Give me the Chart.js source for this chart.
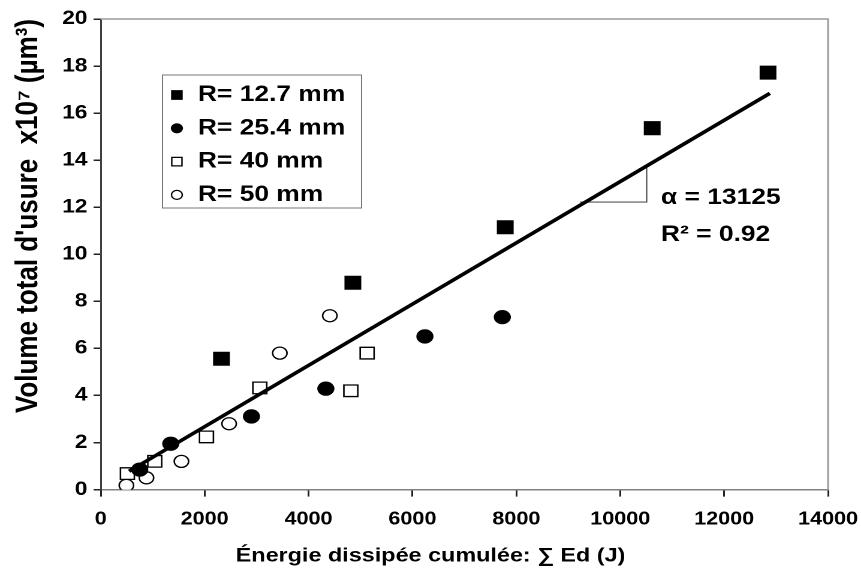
<!DOCTYPE html>
<html>
<head>
<meta charset="utf-8">
<script src="https://cdn.jsdelivr.net/npm/chart.js@4.4.1/dist/chart.umd.min.js"></script>
<style>
  html, body { margin: 0; padding: 0; background: #fff; overflow: hidden; }
  /* the source figure is stretched horizontally, so draw narrow and widen */
  #wrap { width: 718px; height: 574px; transform: scaleX(1.1992); transform-origin: 0 0; }
</style>
</head>
<body>
<div id="wrap"><canvas id="wear" width="718" height="574"></canvas></div>
<script>
/* global Chart */
const FONT = '"Liberation Sans", Arial, sans-serif';

// tick labels
const xTicks = [0, 2000, 4000, 6000, 8000, 10000, 12000, 14000];
const yTicks = [0, 2, 4, 6, 8, 10, 12, 14, 16, 18, 20];

// [cumulated dissipated energy (J), wear volume x10^7 (µm3)]
const r127 = [[2324, 5.56], [4853, 8.79], [7786, 11.15], [10615, 15.36], [12844, 17.72]];
const r254 = [[751, 0.85], [1348, 1.95], [2901, 3.11], [4333, 4.29], [6240, 6.51], [7730, 7.33]];
const r40 = [[513, 0.68], [1040, 1.2], [2035, 2.24], [3062, 4.32], [4814, 4.2], [5128, 5.8]];
const r50 = [[494, 0.18], [880, 0.5], [1553, 1.2], [2471, 2.8], [3447, 5.8], [4410, 7.39]];

// linear fit and the slope triangle
const fitLine = [[545, 0.78], [12880, 16.84]];
const slopeMark = [[9225, 12.22], [10508, 12.22], [10508, 13.73]];

const noteX = 10784;
const notes = [['α = 13125', 12.4], ['R² = 0.92', 10.83]];

const toXY = (arr) => arr.map(([x, y]) => ({ x, y }));

const series = [
  { label: 'R= 12.7 mm', data: r127, style: 'rect', fill: '#000', radius: 9, legendRadius: 6 },
  { label: 'R= 25.4 mm', data: r254, style: 'circle', fill: '#000', radius: 6.5, legendRadius: 4.5 },
  { label: 'R= 40 mm', data: r40, style: 'rect', fill: '#fff', radius: 8.2, legendRadius: 6 },
  { label: 'R= 50 mm', data: r50, style: 'circle', fill: '#fff', radius: 6, legendRadius: 4.5 }
];

const markerSets = series.map((s) => ({
  label: s.label,
  data: toXY(s.data),
  pointStyle: s.style,
  pointRadius: s.radius,
  pointBackgroundColor: s.fill,
  pointBorderColor: '#000',
  pointBorderWidth: 1.3,
  showLine: false,
  order: 2
}));

// legend box inside the plot + the alpha / R2 notes + top/right frame
const extras = {
  id: 'extras',
  beforeDatasetsDraw(chart) {
    const { ctx, chartArea: a } = chart;
    ctx.save();
    ctx.strokeStyle = '#9a9a9a';
    ctx.lineWidth = 1.5;
    ctx.beginPath();
    ctx.moveTo(a.left, a.top);
    ctx.lineTo(a.right, a.top);
    ctx.lineTo(a.right, a.bottom);
    ctx.stroke();
    ctx.restore();
  },
  afterDatasetsDraw(chart) {
    const { ctx, chartArea: a, scales } = chart;
    ctx.save();
    const left = a.left + 51.5;
    const top = a.top + 56;
    ctx.fillStyle = '#fff';
    ctx.fillRect(left, top, 166, 133);
    ctx.strokeStyle = '#777';
    ctx.lineWidth = 1;
    ctx.strokeRect(left, top, 166, 133);
    ctx.font = `bold 22px ${FONT}`;
    ctx.textBaseline = 'middle';
    series.forEach((s, i) => {
      const y = top + 20 + i * 33.3;
      ctx.fillStyle = s.fill;
      ctx.strokeStyle = '#000';
      ctx.lineWidth = 1.2;
      Chart.helpers.drawPoint(ctx, { pointStyle: s.style, radius: s.legendRadius, borderWidth: 1.2, rotation: 0 }, left + 12, y);
      ctx.fillStyle = '#000';
      ctx.fillText(s.label, left + 29.5, y);
    });

    notes.forEach(([text, v]) => {
      ctx.fillText(text, scales.x.getPixelForValue(noteX), scales.y.getPixelForValue(v));
    });
    ctx.restore();
  }
};

new Chart(document.getElementById('wear'), {
  type: 'scatter',
  data: {
    datasets: [
      {
        label: 'fit',
        data: toXY(fitLine),
        showLine: true,
        borderColor: '#000',
        borderWidth: 3.5,
        pointRadius: 0,
        order: 0
      },
      {
        label: 'slope',
        data: toXY(slopeMark),
        showLine: true,
        borderColor: '#555',
        borderWidth: 1.2,
        pointRadius: 0,
        order: 1
      },
      ...markerSets
    ]
  },
  options: {
    responsive: false,
    animation: false,
    devicePixelRatio: 2,
    layout: { padding: { top: 19, right: 0, left: 0, bottom: 0 } },
    plugins: {
      legend: { display: false },
      tooltip: { enabled: false },
      title: {
        display: true,
        position: 'bottom',
        text: 'Énergie dissipée cumulée: ∑ Ed (J)',
        color: '#000',
        font: { family: FONT, size: 19.5, weight: 'bold' },
        padding: { top: 3, bottom: 6 }
      }
    },
    scales: {
      x: {
        type: 'linear',
        min: 0,
        max: 14000,
        afterFit: (s) => {
          s.height = 52;
          s.paddingLeft = 0;
          s.paddingRight = 27.5;
        },
        afterBuildTicks: (s) => { s.ticks = xTicks.map((value) => ({ value })); },
        border: { color: '#808080', width: 1.5 },
        grid: { drawOnChartArea: false, tickLength: 7, color: '#222', lineWidth: 1.5 },
        ticks: {
          color: '#000',
          padding: 12,
          maxRotation: 0,
          font: { family: FONT, size: 18, weight: 'bold' },
          callback: (v) => String(v)
        }
      },
      y: {
        type: 'linear',
        min: 0,
        max: 20,
        afterFit: (s) => { s.width = 84; },
        afterBuildTicks: (s) => { s.ticks = yTicks.map((value) => ({ value })); },
        border: { color: '#404040', width: 1.5 },
        grid: { drawOnChartArea: false, tickLength: 6, color: '#222', lineWidth: 1.5 },
        ticks: {
          color: '#000',
          padding: 5,
          font: { family: FONT, size: 19, weight: 'bold' },
          callback: (v) => String(v)
        },
        title: {
          display: true,
          text: 'Volume total d\'usure  x10⁷ (µm³)',
          align: 'end',
          color: '#000',
          font: { family: FONT, size: 26, weight: 'bold' },
          padding: { top: 8, bottom: 0 }
        }
      }
    }
  },
  plugins: [extras]
});
</script>
</body>
</html>
